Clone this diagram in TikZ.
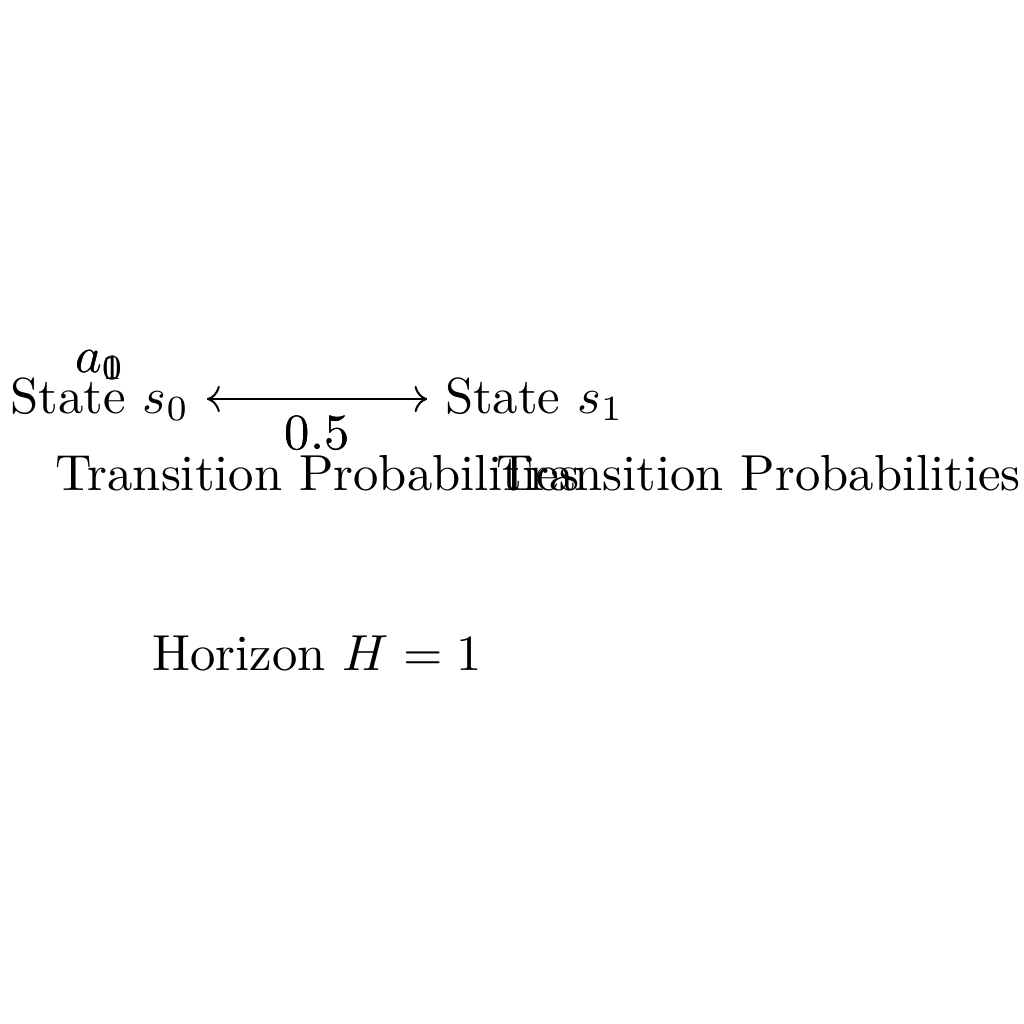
\documentclass[tikz,border=0pt]{standalone}
\usetikzlibrary{arrows.meta}
\tikzset{
    statebox/.style={inner sep=3.33pt},
    problabel/.style={inner sep=2pt}
}
\begin{document}
\begin{tikzpicture}
    \useasboundingbox (-0.693,2.767) rectangle (6.407,-4.334);

    \node[statebox] (s0) at (0,0) {State $s_0$};
    \node[statebox] (s1) at (3.013,0) {State $s_1$};
    \draw[->] (s0) -- (s1);
    \draw[->] (s1) -- (s0);
    \node[problabel] (a0) at (0,0.236) {$a_0$};
    \node[problabel] (a1) at (0,0.236) {$a_1$};
    \node[problabel] (p01) at (1.507,-0.236) {$0.5$};
    \node[problabel] (p10) at (1.507,-0.236) {$0.5$};
    \node (t0) at (1.507,-0.513) {Transition Probabilities};
    \node (t1) at (4.569,-0.513) {Transition Probabilities};
    \node (hz) at (1.507,-1.761) {Horizon $H=1$};
\end{tikzpicture}
\end{document}
